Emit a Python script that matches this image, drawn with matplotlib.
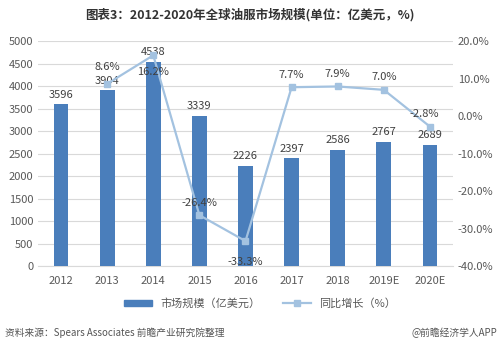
import numpy as np
import matplotlib.pyplot as plt
from matplotlib.lines import Line2D
from matplotlib.patches import Patch

plt.rcParams['font.family'] = ['Noto Sans CJK SC', 'DejaVu Sans']

# ── Data ──────────────────────────────────────────────────────────────────────
years   = ['2012', '2013', '2014', '2015', '2016', '2017', '2018', '2019E', '2020E']
market  = [3596, 3904, 4538, 3339, 2226, 2397, 2586, 2767, 2689]
growth  = [np.nan, 8.6, 16.2, -26.4, -33.3, 7.7, 7.9, 7.0, -2.8]
# vertical offset (points) of each growth label centre from its marker
growth_off = [0, 12, -12, 9, -15, 9, 9, 9, 9]

bar_color  = '#4A7EBB'
line_color = '#A3C2E0'
text_color = '#404040'
tick_color = '#595959'

# ── Figure ────────────────────────────────────────────────────────────────────
fig = plt.figure(figsize=(5.0, 3.48), dpi=100)
ax = fig.add_axes([0.076, 0.235, 0.83, 0.647])
ax2 = ax.twinx()

x = np.arange(len(years))
ax.bar(x, market, width=0.32, color=bar_color, zorder=3)
ax.set_xlim(-0.5, len(years) - 0.5)
ax.set_ylim(0, 5000)
ax.set_yticks(range(0, 5001, 500))
ax.grid(axis='y', color='#D9D9D9', linewidth=0.8, zorder=0)
ax.set_xticks(x)
ax.set_xticklabels(years)

for i, v in enumerate(market):
    ax.annotate(f'{v}', xy=(x[i], v), xytext=(0, 7), textcoords='offset points',
                ha='center', va='center', fontsize=8, color=text_color, zorder=5)

ax2.plot(x, growth, color=line_color, linewidth=1.6, marker='s',
         markersize=4, markerfacecolor=line_color, zorder=4)
ax2.set_ylim(-40, 20)
ax2.set_yticks(range(-40, 21, 10))
ax2.yaxis.set_major_formatter(plt.FuncFormatter(lambda v, _: f'{v:.1f}%'))

for i, g in enumerate(growth):
    if np.isnan(g):
        continue
    dx = -4 if i == len(growth) - 1 else 0
    ax2.annotate(f'{g:.1f}%', xy=(x[i], g), xytext=(dx, growth_off[i]),
                 textcoords='offset points', ha='center', va='center',
                 fontsize=8, color=text_color, zorder=5)

for a in (ax, ax2):
    for s in a.spines.values():
        s.set_visible(False)
    a.tick_params(length=0, labelsize=8, colors=tick_color)
ax.spines['bottom'].set_visible(True)
ax.spines['bottom'].set_color('#D9D9D9')
ax.tick_params(axis='x', pad=7)
ax.set_zorder(ax2.get_zorder() - 1)
ax.patch.set_visible(False)

# ── Title / legend / footer ───────────────────────────────────────────────────
fig.text(0.5, 0.957, '图表3：2012-2020年全球油服市场规模(单位：亿美元，%)',
         ha='center', va='center', fontsize=9, fontweight='bold', color='#333333')

handles = [Patch(color=bar_color),
           Line2D([0], [0], color=line_color, lw=1.6, marker='s', markersize=4)]
fig.legend(handles, ['市场规模（亿美元）', '同比增长（%）'], loc='center',
           bbox_to_anchor=(0.52, 0.128), ncol=2, frameon=False, fontsize=8,
           labelcolor=tick_color, handlelength=2.5, handleheight=0.5,
           columnspacing=2.0)

fig.text(0.01, 0.043, '资料来源：Spears Associates 前瞻产业研究院整理',
         ha='left', va='center', fontsize=7, color='#555555')
fig.text(0.995, 0.043, '@前瞻经济学人APP',
         ha='right', va='center', fontsize=7, color='#555555')

plt.savefig('out.png', dpi=100)
